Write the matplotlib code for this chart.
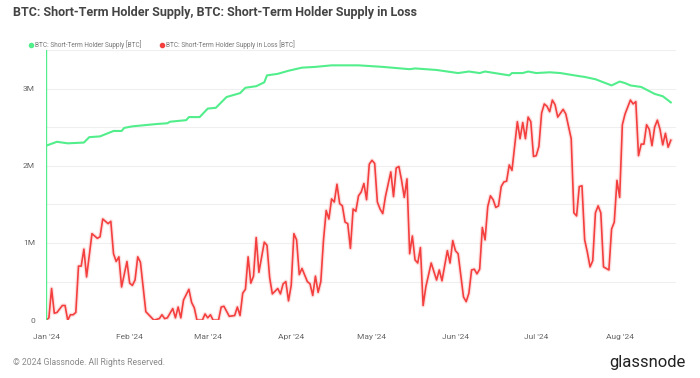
import numpy as np
import matplotlib
matplotlib.use("Agg")
import matplotlib.pyplot as plt
from matplotlib.lines import Line2D

plt.rcParams['font.family'] = ['Roboto', 'DejaVu Sans']

# ---- data (day offsets from 2024-01-01, values in millions BTC) ----
green_days = [0, 4, 8, 14, 16, 20, 25, 28, 29, 32, 41, 45, 46, 52, 53, 57, 60, 63, 67, 72,
              74, 78, 81, 82, 86, 88, 90, 95, 100, 106, 113, 116, 125, 135, 137, 145, 153,
              157, 161, 163, 172, 173, 177, 179, 182, 187, 191, 198, 200, 204, 210, 213,
              215, 217, 221, 226, 229, 232]
green_vals = [2.26, 2.31, 2.29, 2.30, 2.37, 2.38, 2.45, 2.45, 2.49, 2.51, 2.54, 2.55, 2.57,
              2.59, 2.63, 2.63, 2.74, 2.75, 2.89, 2.94, 3.01, 3.03, 3.08, 3.17, 3.19, 3.21,
              3.23, 3.27, 3.28, 3.30, 3.30, 3.30, 3.28, 3.25, 3.26, 3.24, 3.20, 3.22, 3.20,
              3.22, 3.17, 3.20, 3.20, 3.22, 3.20, 3.21, 3.20, 3.16, 3.15, 3.12, 3.04, 3.09,
              3.07, 3.04, 3.02, 2.93, 2.90, 2.82]

red_days = [0, 1, 2, 3, 4, 6, 7, 8, 9, 10, 11, 12, 13, 14, 15, 17, 19, 20, 21, 23, 24, 25,
            26, 27, 28, 30, 31, 32, 33, 34, 35, 37, 40, 42, 43, 44, 45, 47, 48, 49, 50, 51,
            53, 54, 55, 56, 58, 59, 60, 61, 62, 64, 65, 66, 68, 70, 71, 72, 73, 74, 75, 76,
            77, 78, 79, 81, 82, 83, 84, 86, 87, 88, 89, 90, 91, 92, 93, 94, 95, 97, 98, 99,
            100, 101, 102, 103, 104, 105, 106, 107, 108, 109, 110, 111, 112, 113, 114, 115,
            116, 117, 118, 119, 120, 121, 122, 123, 124, 125, 126, 128, 129, 130, 131, 132,
            133, 134, 135, 136, 137, 138, 139, 140, 141, 143, 145, 146, 147, 149, 150, 151,
            152, 153, 155, 156, 157, 158, 159, 160, 161, 162, 163, 164, 165, 166, 167, 168,
            169, 170, 171, 172, 173, 175, 176, 177, 178, 179, 180, 181, 182, 183, 184, 185,
            186, 187, 188, 189, 190, 192, 193, 195, 196, 197, 198, 199, 200, 201, 202, 203,
            204, 205, 206, 207, 208, 209, 210, 211, 212, 213, 214, 215, 217, 218, 219, 220,
            221, 222, 223, 224, 225, 226, 227, 228, 229, 230, 231, 232]
red_vals = [0.00, 0.03, 0.41, 0.09, 0.10, 0.19, 0.19, 0.00, 0.07, 0.07, 0.10, 0.70, 0.70,
            0.92, 0.56, 1.12, 1.06, 1.08, 1.31, 1.25, 1.28, 0.86, 0.76, 0.82, 0.43, 0.76,
            0.48, 0.45, 0.52, 0.82, 0.75, 0.11, 0.00, 0.02, 0.07, 0.02, 0.03, 0.15, 0.03,
            0.17, 0.03, 0.26, 0.40, 0.23, 0.16, 0.00, 0.00, 0.08, 0.03, 0.07, 0.00, 0.00,
            0.17, 0.18, 0.05, 0.06, 0.17, 0.06, 0.35, 0.40, 0.82, 0.48, 0.57, 1.07, 0.62,
            1.01, 0.97, 0.55, 0.34, 0.41, 0.34, 0.47, 0.50, 0.25, 0.45, 1.12, 1.04, 0.59,
            0.67, 0.50, 0.47, 0.32, 0.57, 0.36, 0.50, 1.04, 1.42, 1.31, 1.57, 1.53, 1.76,
            1.51, 1.48, 1.27, 1.25, 0.93, 1.44, 1.41, 1.61, 1.66, 1.77, 1.56, 2.02, 2.07,
            2.03, 1.53, 1.44, 1.38, 1.60, 1.92, 1.60, 1.97, 1.99, 1.81, 1.59, 1.83, 0.86,
            1.09, 0.78, 0.74, 0.94, 0.19, 0.43, 0.74, 0.52, 0.65, 0.51, 0.90, 0.74, 1.03,
            0.90, 0.86, 0.30, 0.24, 0.35, 0.65, 0.66, 0.60, 0.66, 1.20, 1.04, 1.47, 1.61,
            1.56, 1.46, 1.48, 1.73, 1.79, 1.80, 2.01, 1.94, 2.57, 2.35, 2.56, 2.35, 2.63,
            2.57, 2.12, 2.13, 2.25, 2.68, 2.80, 2.77, 2.70, 2.85, 2.79, 2.63, 2.73, 2.67,
            2.35, 1.39, 1.35, 1.73, 1.74, 1.04, 0.88, 0.69, 0.77, 1.39, 1.48, 1.39, 0.69,
            0.67, 0.65, 1.18, 1.27, 1.81, 1.59, 2.53, 2.67, 2.85, 2.80, 2.83, 2.13, 2.28,
            2.28, 2.53, 2.47, 2.26, 2.50, 2.59, 2.47, 2.27, 2.42, 2.24, 2.33]

tick_values = [0, 1, 2, 3]
tick_labels = ['0', '1M', '2M', '3M']
month_ticks = ['2024-01-01', '2024-02-01', '2024-03-01', '2024-04-01',
               '2024-05-01', '2024-06-01', '2024-07-01', '2024-08-01']
month_labels = ["Jan '24", "Feb '24", "Mar '24", "Apr '24",
                "May '24", "Jun '24", "Jul '24", "Aug '24"]

title = "BTC: Short-Term Holder Supply, BTC: Short-Term Holder Supply in Loss"
green_name = "BTC: Short-Term Holder Supply [BTC]"
red_name = "BTC: Short-Term Holder Supply in Loss [BTC]"

GREEN = '#52ee8c'
RED = '#f43f3f'

base = np.datetime64('2024-01-01')
gx = base + np.array(green_days).astype('timedelta64[D]')
rx = base + np.array(red_days).astype('timedelta64[D]')

fig = plt.figure(figsize=(7, 3.78), dpi=100)
ax = fig.add_axes([0.066, 0.153, 0.900, 0.715])

for y in np.arange(0, 3.51, 0.5):
    ax.axhline(y, color='#efefef', lw=0.8, zorder=0)

ax.plot(rx, red_vals, color=RED, lw=3.0, alpha=0.15, solid_joinstyle='round', zorder=2)
ax.plot(rx, red_vals, color=RED, lw=1.2, solid_joinstyle='round', zorder=3)
ax.plot(gx, green_vals, color=GREEN, lw=1.5, zorder=3)
ax.axvline(base, color=GREEN, lw=1.0, zorder=3)

ax.set_xlim(base, base + np.timedelta64(234, 'D'))
ax.set_ylim(0, 3.5)
ax.set_yticks(tick_values)
ax.set_yticklabels(tick_labels)
ax.set_xticks([np.datetime64(d) for d in month_ticks])
ax.set_xticklabels(month_labels)
ax.tick_params(axis='both', length=0, labelsize=6, labelcolor='#666666')
ax.tick_params(axis='y', pad=8)
ax.tick_params(axis='x', pad=10)
for s in ax.spines.values():
    s.set_visible(False)

fig.text(0.019, 0.966, title, fontsize=9.0, fontweight='bold', color='#444444',
         va='center', ha='left')

handles = [Line2D([], [], marker='o', ls='none', color=GREEN, markersize=3),
           Line2D([], [], marker='o', ls='none', color=RED, markersize=3)]
fig.legend(handles, [green_name, red_name], loc='center left',
           bbox_to_anchor=(0.036, 0.881), ncol=2, frameon=False,
           fontsize=4.7, labelcolor='#777777', handletextpad=0.1,
           columnspacing=2.6, handlelength=1.0, borderaxespad=0)

fig.text(0.018, 0.04, "© 2024 Glassnode. All Rights Reserved.", fontsize=6.2,
         color='#8a8a8a', va='center', ha='left')
fig.text(0.979, 0.04, "glassnode", fontsize=12, color='#222222', va='center',
         ha='right')

fig.savefig('out.png', dpi=100)
